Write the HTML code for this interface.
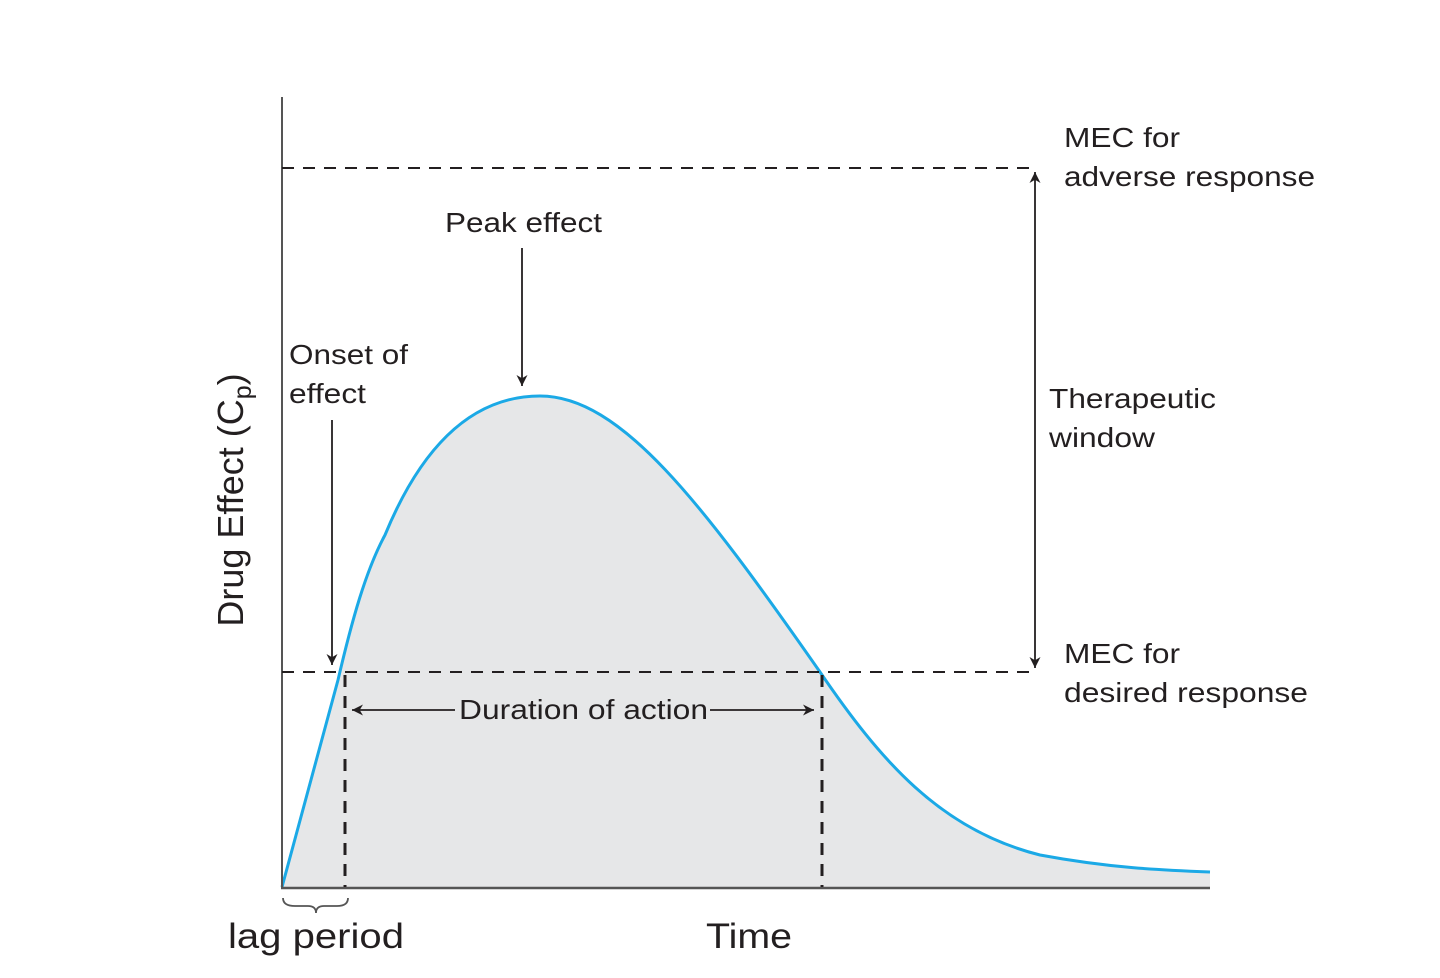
<!DOCTYPE html>
<html><head><meta charset="utf-8"><style>
html,body{margin:0;padding:0;background:#fff}
svg text{font-family:"Liberation Sans",sans-serif;fill:#231f20}
</style></head><body>
<svg width="1440" height="973" viewBox="0 0 1440 973" xmlns="http://www.w3.org/2000/svg">
<defs>
<marker id="ah" viewBox="0 0 10 10" refX="10" refY="5" markerWidth="14" markerHeight="11" markerUnits="userSpaceOnUse" orient="auto-start-reverse">
<path d="M0,0 L10,5 L0,10 L3,5 Z" fill="#231f20"/></marker>
</defs>
<path d="M282,887 L338,680 C352,620 366,570 385,535 C420,450 470,396 540,396 C620,396 700,500 820,672 C880,760 940,830 1040,855 C1110,868 1160,870 1210,872 L1210,887 Z" fill="#e6e7e8"/>
<path d="M282,887 L338,680 C352,620 366,570 385,535 C420,450 470,396 540,396 C620,396 700,500 820,672 C880,760 940,830 1040,855 C1110,868 1160,870 1210,872" fill="none" stroke="#1ba9e6" stroke-width="3"/>
<line x1="282" y1="97" x2="282" y2="888" stroke="#555" stroke-width="2"/>
<line x1="281" y1="888" x2="1210" y2="888" stroke="#555" stroke-width="2.5"/>
<g stroke="#231f20" stroke-width="2" stroke-dasharray="12,9">
<line x1="282" y1="168" x2="1035" y2="168"/>
<line x1="282" y1="672" x2="1035" y2="672"/>
<line x1="345" y1="675" x2="345" y2="887" stroke-width="3"/>
<line x1="822" y1="675" x2="822" y2="887" stroke-width="3"/>
</g>
<g stroke="#231f20" stroke-width="1.8">
<line x1="1035" y1="172" x2="1035" y2="668" marker-start="url(#ah)" marker-end="url(#ah)"/>
<line x1="522" y1="248" x2="522" y2="386" marker-end="url(#ah)"/>
<line x1="332" y1="420" x2="332" y2="665" marker-end="url(#ah)"/>
<line x1="455" y1="710" x2="352" y2="710" marker-end="url(#ah)"/>
<line x1="710" y1="710" x2="814" y2="710" marker-end="url(#ah)"/>
</g>
<path d="M283,898 Q283,906 295,906 L308,906 Q316,906 316,913 Q316,906 324,906 L337,906 Q348,906 348,898" fill="none" stroke="#555" stroke-width="1.8"/>
<g font-size="28">
<text x="1064" y="147" textLength="116" lengthAdjust="spacingAndGlyphs">MEC for</text>
<text x="1064" y="186" textLength="251" lengthAdjust="spacingAndGlyphs">adverse response</text>
<text x="1064" y="663" textLength="116" lengthAdjust="spacingAndGlyphs">MEC for</text>
<text x="1064" y="702" textLength="244" lengthAdjust="spacingAndGlyphs">desired response</text>
<text x="1049" y="408" textLength="167" lengthAdjust="spacingAndGlyphs">Therapeutic</text>
<text x="1049" y="447" textLength="106" lengthAdjust="spacingAndGlyphs">window</text>
<text x="445" y="232" textLength="157" lengthAdjust="spacingAndGlyphs">Peak effect</text>
<text x="289" y="364" textLength="119" lengthAdjust="spacingAndGlyphs">Onset of</text>
<text x="289" y="403" textLength="77" lengthAdjust="spacingAndGlyphs">effect</text>
<text x="459" y="719" textLength="249" lengthAdjust="spacingAndGlyphs">Duration of action</text>
</g>
<text x="228" y="948" font-size="35" textLength="176" lengthAdjust="spacingAndGlyphs">lag period</text>
<text x="706" y="948" font-size="35" textLength="86" lengthAdjust="spacingAndGlyphs">Time</text>
<text transform="translate(243,500) rotate(-90)" font-size="36" text-anchor="middle">Drug Effect (C<tspan font-size="25" dy="8">p</tspan><tspan dy="-8">)</tspan></text>
</svg>
</body></html>
